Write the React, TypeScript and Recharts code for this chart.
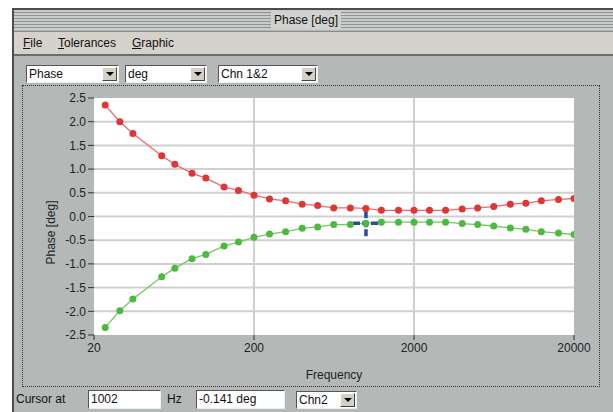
import React from 'react';
import { LineChart, Line, XAxis, YAxis, CartesianGrid, ReferenceDot } from 'recharts';

// 1/3-octave points
const frequencies = [
  23.5, 29, 35, 53, 64, 82, 100, 130, 160, 200, 250, 315, 400, 500, 630, 800, 1000, 1250,
  1600, 2000, 2500, 3150, 4000, 5000, 6300, 8000, 10000, 12500, 16000, 20000,
];
const chn1Phase = [
  2.35, 2.0, 1.75, 1.28, 1.1, 0.91, 0.81, 0.62, 0.55, 0.45, 0.37, 0.33, 0.26, 0.23, 0.18, 0.18,
  0.17, 0.13, 0.13, 0.13, 0.13, 0.13, 0.16, 0.18, 0.21, 0.26, 0.28, 0.33, 0.36, 0.38,
];
const chn2Phase = [
  -2.34, -1.99, -1.74, -1.27, -1.09, -0.89, -0.8, -0.62, -0.54, -0.44, -0.37, -0.32, -0.25, -0.22,
  -0.17, -0.17, -0.14, -0.12, -0.12, -0.12, -0.12, -0.12, -0.15, -0.17, -0.2, -0.24, -0.27, -0.32,
  -0.35, -0.38,
];
const xTicks = [20, 200, 2000, 20000];
const yTicks = [-2.5, -2, -1.5, -1, -0.5, 0, 0.5, 1, 1.5, 2, 2.5];
const cursorFreq = 1002;
const cursorPhase = -0.141;

const data = frequencies.map((f, i) => ({ f, chn1: chn1Phase[i], chn2: chn2Phase[i] }));

const FONT = '"Liberation Sans", Arial, sans-serif';
const BODY = '#b4b9b8';

const Crosshair = (props: any) => {
  const { cx, cy } = props;
  const s = { stroke: '#2c4b9c', strokeWidth: 3.5, strokeDasharray: '7 2' };
  return (
    <g>
      <line x1={cx} y1={cy - 12} x2={cx} y2={cy + 13} {...s} />
      <line x1={cx - 13} y1={cy} x2={cx + 13} y2={cy} {...s} />
    </g>
  );
};

const Underlined = ({ first, rest }: { first: string; rest: string }) => (
  <span>
    <span style={{ textDecoration: 'underline' }}>{first}</span>
    {rest}
  </span>
);

const Combo = ({ left, top, width, text }: { left: number; top: number; width: number; text: string }) => (
  <div
    style={{
      position: 'absolute', left, top, width, height: 18, background: '#fff',
      borderTop: '1px solid #555', borderLeft: '1px solid #555',
      borderRight: '1px solid #eee', borderBottom: '1px solid #eee',
      boxSizing: 'border-box', fontSize: 12, lineHeight: '16px', paddingLeft: 2, whiteSpace: 'nowrap',
    }}
  >
    {text}
    <div
      style={{
        position: 'absolute', right: 1, top: 1, width: 15, height: 14, background: '#d4d0c8',
        borderTop: '1px solid #fff', borderLeft: '1px solid #fff',
        borderRight: '1px solid #444', borderBottom: '1px solid #444', boxSizing: 'border-box',
      }}
    >
      <div
        style={{
          position: 'absolute', left: 3, top: 4, width: 0, height: 0,
          borderLeft: '4px solid transparent', borderRight: '4px solid transparent',
          borderTop: '4px solid #000',
        }}
      />
    </div>
  </div>
);

const TextBox = ({ left, top, width, text }: { left: number; top: number; width: number; text: string }) => (
  <div
    style={{
      position: 'absolute', left, top, width, height: 19, background: '#fff',
      borderTop: '1px solid #555', borderLeft: '1px solid #555',
      borderRight: '1px solid #eee', borderBottom: '1px solid #eee',
      boxSizing: 'border-box', fontSize: 12, lineHeight: '17px', paddingLeft: 2, whiteSpace: 'nowrap',
    }}
  >
    {text}
  </div>
);

export default function App() {
  return (
    <div
      style={{
        position: 'fixed', left: 0, top: 0, width: 613, height: 412, background: '#fff',
        overflow: 'hidden', fontFamily: FONT, fontSize: 12, color: '#111',
      }}
    >
      {/* window frame */}
      <div
        style={{
          position: 'absolute', left: 12, top: 8, width: 610, height: 410, background: BODY,
          borderLeft: '2px solid #4d4d4d', borderTop: '2px solid #4d4d4d', boxSizing: 'border-box',
        }}
      />
      {/* title bar */}
      <div
        style={{
          position: 'absolute', left: 14, top: 10, width: 599, height: 20,
          background: 'repeating-linear-gradient(to bottom, #c9cccb 0px, #c9cccb 2px, #8f9493 2px, #8f9493 3px)',
        }}
      />
      <div
        style={{
          position: 'absolute', left: 271, top: 11, width: 70, height: 18, background: '#d0d2cf',
          textAlign: 'center', lineHeight: '18px', fontSize: 12, whiteSpace: 'nowrap',
        }}
      >
        Phase [deg]
      </div>
      {/* menu bar */}
      <div
        style={{
          position: 'absolute', left: 14, top: 31, width: 599, height: 22, background: '#d5d2cb',
          borderTop: '1px solid #8a8a8a', borderBottom: '2px solid #6b6b6b', boxSizing: 'content-box',
          lineHeight: '22px', fontSize: 12,
        }}
      >
        <span style={{ position: 'absolute', left: 9 }}><Underlined first="F" rest="ile" /></span>
        <span style={{ position: 'absolute', left: 44 }}><Underlined first="T" rest="olerances" /></span>
        <span style={{ position: 'absolute', left: 118 }}><Underlined first="G" rest="raphic" /></span>
      </div>

      <Combo left={26} top={65} width={93} text="Phase" />
      <Combo left={125} top={65} width={82} text="deg" />
      <Combo left={218} top={65} width={100} text="Chn 1&2" />

      {/* dotted frame around the graph */}
      <div
        style={{
          position: 'absolute', left: 22, top: 85, width: 578, height: 302,
          border: '1px dotted #333', boxSizing: 'border-box',
        }}
      />

      <div style={{ position: 'absolute', left: 0, top: 0 }}>
        <LineChart
          width={613}
          height={412}
          data={data}
          margin={{ top: 98, right: 39, left: 54, bottom: 47 }}
        >
          <CartesianGrid
            fill="#fff"
            stroke="#cfcfcf"
            strokeWidth={2}
            verticalValues={[200, 2000]}
            horizontalValues={yTicks.slice(1, -1)}
          />
          <XAxis
            dataKey="f"
            type="number"
            scale="log"
            domain={[20, 20000]}
            ticks={xTicks}
            allowDataOverflow
            height={30}
            axisLine={false}
            tickLine={{ stroke: '#333' }}
            tickSize={5}
            tickMargin={3}
            tick={{ fill: '#222', fontSize: 12, fontFamily: FONT }}
            label={{ value: 'Frequency', position: 'insideBottom', offset: -14, fill: '#222', fontSize: 12, fontFamily: FONT }}
          />
          <YAxis
            type="number"
            domain={[-2.5, 2.5]}
            ticks={yTicks}
            interval={0}
            width={40}
            axisLine={false}
            tickLine={{ stroke: '#333' }}
            tickSize={6}
            tickMargin={2}
            tickFormatter={(v: number) => v.toFixed(1)}
            tick={{ fill: '#222', fontSize: 12, fontFamily: FONT }}
            label={{ value: 'Phase [deg]', angle: -90, position: 'insideLeft', offset: -3, dy: 48, fill: '#222', fontSize: 12, fontFamily: FONT }}
          />
          <ReferenceDot x={cursorFreq} y={cursorPhase} shape={Crosshair} />
          <Line
            dataKey="chn1"
            stroke="#ee6a6a"
            strokeWidth={1.3}
            dot={{ r: 3.5, fill: '#e23434', stroke: 'none' }}
            isAnimationActive={false}
          />
          <Line
            dataKey="chn2"
            stroke="#72c862"
            strokeWidth={1.3}
            dot={{ r: 3.5, fill: '#4cba3c', stroke: 'none' }}
            isAnimationActive={false}
          />
        </LineChart>
      </div>

      {/* cursor row */}
      <div style={{ position: 'absolute', left: 16, top: 392, fontSize: 12 }}>Cursor at</div>
      <TextBox left={88} top={390} width={73} text="1002" />
      <div style={{ position: 'absolute', left: 167, top: 392, fontSize: 12 }}>Hz</div>
      <TextBox left={196} top={390} width={89} text="-0.141 deg" />
      <Combo left={296} top={391} width={61} text="Chn2" />
    </div>
  );
}
